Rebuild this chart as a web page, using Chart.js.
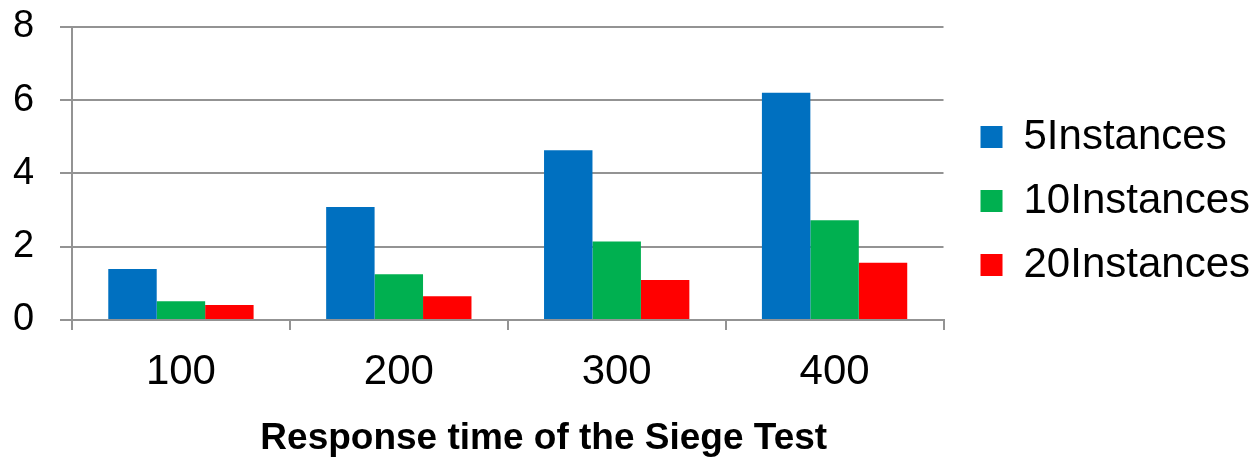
<!DOCTYPE html>
<html>
<head>
<meta charset="utf-8">
<script src="https://cdn.jsdelivr.net/npm/chart.js@4"></script>
<style>
  html, body { margin: 0; padding: 0; background: #fff; }
  #wrap { width: 1255px; height: 457px; }
</style>
</head>
<body>
<div id="wrap"><canvas id="myChart"></canvas></div>
<script>
// data
var categories = ["100", "200", "300", "400"];
var seriesNames = ["5Instances", "10Instances", "20Instances"];
var fiveInstances = [1.39, 3.08, 4.63, 6.2];
var tenInstances = [0.51, 1.25, 2.14, 2.72];
var twentyInstances = [0.41, 0.65, 1.09, 1.56];
var yTicks = [0, 2, 4, 6, 8];

var colors = ["#0070C0", "#00B050", "#FF0000"];
var gridColor = "#939393";
var fontName = "Liberation Sans, Arial";

var ctx = document.getElementById("myChart");

var chartData = {
  labels: categories,
  datasets: [
    { label: seriesNames[0], data: fiveInstances, backgroundColor: colors[0] },
    { label: seriesNames[1], data: tenInstances, backgroundColor: colors[1] },
    { label: seriesNames[2], data: twentyInstances, backgroundColor: colors[2] }
  ]
};

// nudge the legend a bit away from the plot after layout
var legendShift = {
  id: "legendShift",
  afterLayout: function (chart) {
    chart.legend.left += 15;
    chart.legend.right += 15;
  }
};

var chartOptions = {
  responsive: true,
  maintainAspectRatio: false,
  animation: false,
  categoryPercentage: 0.667,
  barPercentage: 1.0,
  layout: { padding: { top: 0, right: 10, left: 13, bottom: 0 } },
  plugins: {
    tooltip: { enabled: false },
    legend: {
      position: "right",
      align: "start",
      // empty title only pushes the items down
      title: { display: true, text: " ", padding: { top: 82, bottom: 0 }, font: { size: 10 } },
      labels: {
        boxWidth: 22,
        boxHeight: 22,
        padding: 22,
        color: "#000",
        font: { family: fontName, size: 42 }
      }
    }
  },
  scales: {
    x: {
      afterFit: function (scale) { scale.height = 137; },
      grid: {
        offset: true,
        drawOnChartArea: false,
        tickLength: 10,
        color: gridColor,
        lineWidth: 2
      },
      border: { color: gridColor, width: 2 },
      ticks: {
        color: "#000",
        padding: 17,
        font: { family: fontName, size: 42 }
      },
      title: {
        display: true,
        text: "       Response time of the Siege Test",
        color: "#000",
        padding: 0,
        font: { family: fontName, size: 37, weight: "bold", lineHeight: 1.0 }
      }
    },
    y: {
      min: 0,
      max: 8,
      afterFit: function (scale) { scale.width = 59; },
      afterBuildTicks: function (axis) {
        axis.ticks = yTicks.map(function (v) { return { value: v }; });
      },
      grid: {
        color: gridColor,
        lineWidth: 2,
        tickLength: 12
      },
      border: { color: gridColor, width: 2 },
      ticks: {
        color: "#000",
        padding: 4,
        crossAlign: "far",
        font: { family: fontName, size: 38 }
      }
    }
  }
};

var barChart = new Chart(ctx, {
  type: "bar",
  data: chartData,
  options: chartOptions,
  plugins: [legendShift]
});
</script>
</body>
</html>
